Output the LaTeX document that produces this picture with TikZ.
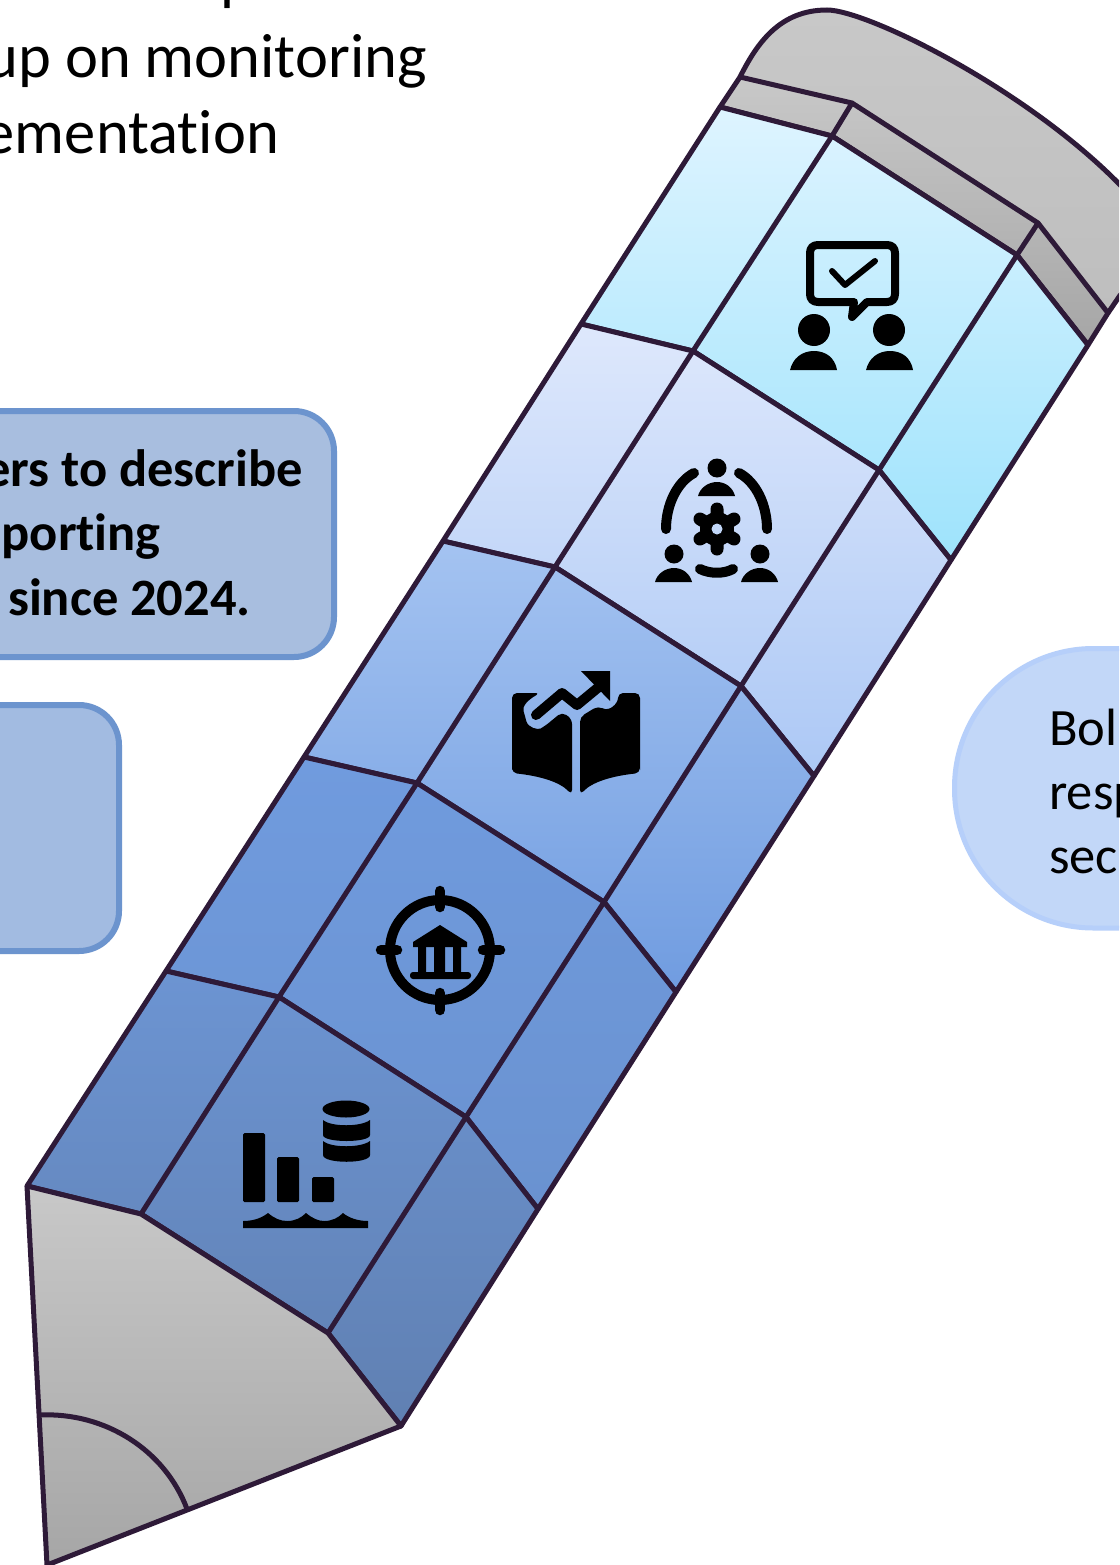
\documentclass[tikz,border=0pt]{standalone}
\usepackage{fontspec}
\setmainfont[Ligatures=NoCommon]{Carlito}
\definecolor{ink}{HTML}{2E1A38}
\definecolor{boxline}{HTML}{6C94CE}
\definecolor{boxa}{HTML}{A8BEDF}
\definecolor{boxb}{HTML}{A2BBE1}
\definecolor{calline}{HTML}{B6CFFA}
\definecolor{calfill}{HTML}{C2D7F8}
\definecolor{gra}{HTML}{C8C8C8}
\definecolor{grb}{HTML}{BEBEBE}
\definecolor{grc}{HTML}{A6A6A6}
\definecolor{ra}{HTML}{DEF4FF}\definecolor{rb}{HTML}{9EE3FC}
\definecolor{rc}{HTML}{DEE8FC}\definecolor{rd}{HTML}{ACC8F5}
\definecolor{re}{HTML}{A4C3F1}\definecolor{rf}{HTML}{709CE0}
\definecolor{rg}{HTML}{709BDE}\definecolor{rh}{HTML}{6A92D0}
\definecolor{ri}{HTML}{6C94D2}\definecolor{rj}{HTML}{6080B2}
\tikzset{
  pencil/.style={draw=ink,line width=5pt,line join=round},
  icon/.style={fill=black,draw=none},
  iconline/.style={draw=black,fill=none,line cap=round,line join=round},
  big/.style={anchor=base east,inner sep=0pt,font=\fontsize{62.5}{70}\selectfont},
  bold/.style={anchor=base east,inner sep=0pt,font=\fontsize{52.5}{60}\selectfont\bfseries},
  call/.style={anchor=base west,inner sep=0pt,font=\fontsize{52.5}{60}\selectfont},
}
\begin{document}
\begin{tikzpicture}[x=1pt,y=-1pt]
\useasboundingbox (0,0) rectangle (1119,1565);
\clip (0,0) rectangle (1119,1565);
\fill[white] (0,0) rectangle (1119,1565);
% texts upper left
\node[big] (t0) at (254,-1) {p};
\node[big] (t1) at (427,78) {up on monitoring};
\node[big] (t2) at (279,154) {ementation};
% boxes
\draw[draw=boxline,fill=boxa,line width=6pt,rounded corners=40pt] (-60,411) rectangle (334,657);
\draw[draw=boxline,fill=boxb,line width=6pt,rounded corners=40pt] (-60,705) rectangle (119,951);
\node[bold] (b1) at (303,486) {ers to describe};
\node[bold] (b2) at (161,550) {porting};
\node[bold] (b3) at (251,615) {since 2024.};
% right callout
\draw[draw=calline,fill=calfill,line width=5pt,rounded corners=139pt] (954.5,648.5) rectangle (1400,928);
\node[call] (c1) at (1049,745) {Bol};
\node[call] (c2) at (1049,809) {resp};
\node[call] (c3) at (1049,873) {sec};
% eraser
\shade[top color=gra,bottom color=grb]
  (740,77) .. controls (757,43) and (780,10) .. (827,10) .. controls (867,10) and (1030,90) .. (1125,190) -- (1125,280) -- (1108,313) -- (1038,223) -- (852,103) -- cycle;
\draw[pencil] (740,77) .. controls (757,43) and (780,10) .. (827,10) .. controls (867,10) and (1030,90) .. (1125,190);
% ferrule
\shade[pencil,top color=gra,bottom color=grc]
  (720,107) -- (832,136) -- (1017,255) -- (1088,345) -- (1108,313) -- (1038,223) -- (852,103) -- (740,77) -- cycle;
\draw[pencil] (1108,313) -- (1125,288);
\draw[pencil] (852,103) -- (832,136);
\draw[pencil] (1038,223) -- (1017,255);
% rows
\shade[pencil,top color=ra,bottom color=rb]
  (720,107) -- (832,136) -- (1017,255) -- (1088,345) -- (951,560) -- (879,470) -- (693,351) -- (581,324) -- cycle;
\shade[pencil,top color=rc,bottom color=rd]
  (581,324) -- (693,351) -- (879,470) -- (951,560) -- (814,776) -- (741,686) -- (555,567) -- (443,541) -- cycle;
\shade[pencil,top color=re,bottom color=rf]
  (443,541) -- (555,567) -- (741,686) -- (814,776) -- (676,992) -- (604,902) -- (417,783) -- (304,757) -- cycle;
\shade[pencil,top color=rg,bottom color=rh]
  (304,757) -- (417,783) -- (604,902) -- (676,992) -- (538,1209) -- (466,1117) -- (279,997) -- (166,971) -- cycle;
\shade[pencil,top color=ri,bottom color=rj]
  (166,971) -- (279,997) -- (466,1117) -- (538,1209) -- (401,1426) -- (328,1333) -- (141,1214) -- (27,1186) -- cycle;
% longitudinal lines
\draw[pencil] (141,1214) -- (279,997) -- (417,783) -- (555,567) -- (693,351) -- (832,136);
\draw[pencil] (328,1333) -- (466,1117) -- (604,902) -- (741,686) -- (879,470) -- (1017,255);
% tip
\shade[pencil,top color=gra,bottom color=grc]
  (27,1186) -- (141,1214) -- (328,1333) -- (401,1426) -- (47,1565) -- cycle;
\draw[pencil] (40,1415) .. controls (105,1412) and (165,1450) .. (187,1509);
% icon 1
\draw[iconline,line width=8pt] (818,245) -- (887,245) .. controls (892,245) and (895,248) .. (895,253) -- (895,294) .. controls (895,299) and (892,302) .. (887,302) -- (867,302) -- (852,317) -- (854,302) -- (818,302) .. controls (813,302) and (810,299) .. (810,294) -- (810,253) .. controls (810,248) and (813,245) .. (818,245) -- cycle;
\draw[iconline,line width=6pt] (832,271) -- (845,285) -- (875,261);
\fill[icon] (814,330) circle (16) (889,330) circle (16);
\fill[icon] (790,370) .. controls (793,358) and (802,351) .. (814,351) .. controls (826,351) and (835,358) .. (837,370) -- cycle;
\fill[icon] (866,370) .. controls (869,358) and (878,351) .. (890,351) .. controls (902,351) and (911,358) .. (913,370) -- cycle;
% icon 2
\fill[icon] (717,468) circle (9.5) (674,554) circle (9.5) (760,554) circle (9.5);
\fill[icon] (698,496) .. controls (700,488) and (708,482) .. (717,482) .. controls (726,482) and (733,488) .. (735,496) -- cycle;
\fill[icon] (655,582) .. controls (657,574) and (665,568) .. (674,568) .. controls (683,568) and (690,574) .. (692,582) -- cycle;
\fill[icon] (741,582) .. controls (743,574) and (751,568) .. (760,568) .. controls (769,568) and (776,574) .. (778,582) -- cycle;
\draw[iconline,line width=10pt] (694,473) .. controls (677,482) and (666,505) .. (666,529);
\draw[iconline,line width=10pt] (739,473) .. controls (756,482) and (767,505) .. (767,529);
\draw[iconline,line width=10pt] (700,569) .. controls (710,574) and (724,574) .. (733,569);
\draw[iconline,line width=13pt] (717,509) -- (717,549) (700,519) -- (734,539) (700,539) -- (734,519);
\fill[icon] (717,529) circle (17);
\fill[calfill] (717,529) circle (5.5);
% icon 3
\fill[icon,rounded corners=5pt] (512,773) -- (512,693) -- (540,693) .. controls (528,700) and (522,706) .. (525,716) .. controls (528,728) and (538,730) .. (545,726) -- (562,712) -- (572,719) -- (572,795) .. controls (560,782) and (540,776) .. (512,773) -- cycle;
\fill[icon,rounded corners=5pt] (640,773) -- (640,693) -- (618,693) .. controls (618,703) and (610,712) .. (598,706) -- (580,717) -- (580,795) .. controls (592,782) and (612,776) .. (640,773) -- cycle;
\draw[iconline,line width=10pt] (536,715) -- (562,693) -- (577,705) -- (600,686);
\fill[icon] (581,671) -- (610,671) -- (610,701) -- cycle;
% icon 4
\draw[draw=black,line width=10pt] (440,950) circle (50);
\draw[iconline,line width=10.5pt] (440,891) -- (440,907) (440,993) -- (440,1010) (381,950) -- (397,950) (483,950) -- (500,950);
\fill[icon] (440,925) -- (467,942) -- (467,947) -- (413,947) -- (413,942) -- cycle;
\fill[icon] (418,947) rectangle (426,972) (434,947) rectangle (445,972) (453,947) rectangle (461,972);
\fill[icon,rounded corners=3pt] (410,972) rectangle (471,979);
% icon 5
\fill[icon,rounded corners=1.5pt] (243,1133) rectangle (265,1202);
\fill[icon,rounded corners=1.5pt] (277,1157) rectangle (299,1202);
\fill[icon,rounded corners=1.5pt] (312,1177) rectangle (334,1202);
\fill[icon] (243,1228) -- (243,1221) .. controls (255,1221) and (263,1217) .. (268,1213) .. controls (274,1218) and (280,1221) .. (287,1221) .. controls (295,1221) and (301,1218) .. (306,1213) .. controls (312,1218) and (318,1221) .. (324,1221) .. controls (332,1221) and (338,1218) .. (343,1213) .. controls (349,1218) and (358,1221) .. (368,1221) -- (368,1228) -- cycle;
\fill[icon] (346,1109) ellipse [x radius=23.5,y radius=8.5];
\fill[icon] (323,1120) .. controls (331,1127) and (361,1127) .. (370,1120) -- (370,1135) .. controls (370,1143) and (323,1143) .. (323,1135) -- cycle;
\fill[icon] (323,1141) .. controls (331,1148) and (361,1148) .. (370,1141) -- (370,1155) .. controls (370,1164) and (323,1164) .. (323,1155) -- cycle;
\end{tikzpicture}
\end{document}
